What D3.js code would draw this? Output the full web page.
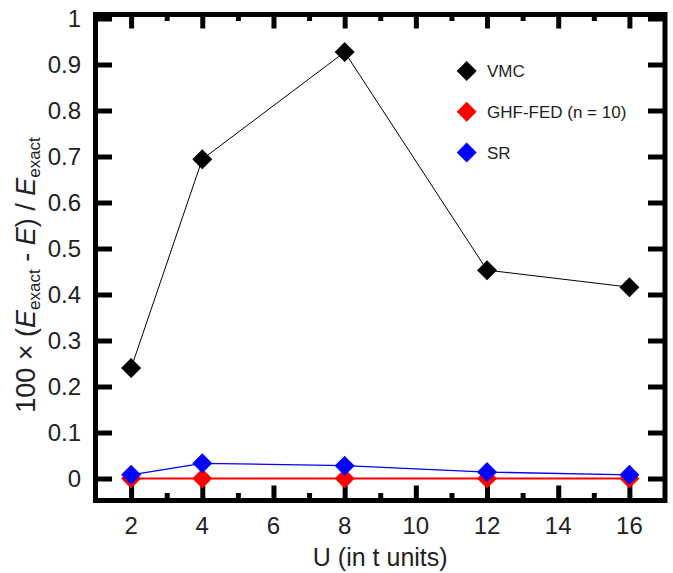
<!DOCTYPE html>
<html>
<head>
<meta charset="utf-8">
<script src="https://cdn.jsdelivr.net/npm/d3@7/dist/d3.min.js"></script>
<style>
  html, body { margin: 0; padding: 0; background: #fff; }
  svg { display: block; }
  text { font-family: "Liberation Sans", Arial, Helvetica, sans-serif; fill: #222; }
</style>
</head>
<body>
<svg id="chart" width="673" height="573"></svg>
<script>
// Interaction strength U (in units of t)
const uValues = [2, 4, 8, 12, 16];
// Relative energy error, 100 × (E_exact − E) / E_exact
const vmc = [0.240, 0.694, 0.927, 0.453, 0.416];
const ghfFed = [0.000, 0.000, 0.000, 0.000, 0.000];
const sr = [0.008, 0.033, 0.028, 0.014, 0.008];

const seriesNames = ["VMC", "GHF-FED (n = 10)", "SR"];
const seriesColors = ["#000000", "#ff0000", "#0000ff"];
const lineWidths = [1, 2, 1.3];

const xMajorTicks = [2, 4, 6, 8, 10, 12, 14, 16];
const xMinorTicks = [3, 5, 7, 9, 11, 13, 15];
const yTicks = [0, 0.1, 0.2, 0.3, 0.4, 0.5, 0.6, 0.7, 0.8, 0.9, 1];

const svg = d3.select("#chart");
const plotLeft = 95.5, plotRight = 665, plotTop = 14.5, plotBottom = 500.5;

const x = d3.scaleLinear().domain([1, 17]).range([plotLeft, plotRight]);
const y = d3.scaleLinear().domain([-0.0478, 1.0087]).range([plotBottom, plotTop]);

const ink = "#000";
const tickW = 5;

// Frame ticks drawn with d3 axes, pointing inward
function styleAxis(g) {
  g.select(".domain").remove();
  g.selectAll(".tick line").attr("stroke", ink).attr("stroke-width", tickW);
}

svg.append("g").attr("transform", `translate(0,${plotBottom})`)
  .call(d3.axisBottom(x).tickValues(xMajorTicks).tickSize(-15).tickFormat(""))
  .call(styleAxis);
svg.append("g").attr("transform", `translate(0,${plotBottom})`)
  .call(d3.axisBottom(x).tickValues(xMinorTicks).tickSize(-7.5).tickFormat(""))
  .call(styleAxis);
svg.append("g").attr("transform", `translate(0,${plotTop})`)
  .call(d3.axisTop(x).tickValues(xMajorTicks).tickSize(-14).tickFormat(""))
  .call(styleAxis);
svg.append("g").attr("transform", `translate(0,${plotTop})`)
  .call(d3.axisTop(x).tickValues(xMinorTicks).tickSize(-6.5).tickFormat(""))
  .call(styleAxis);
svg.append("g").attr("transform", `translate(${plotLeft},0)`)
  .call(d3.axisLeft(y).tickValues(yTicks).tickSize(-16.5).tickFormat(""))
  .call(styleAxis);
svg.append("g").attr("transform", `translate(${plotRight},0)`)
  .call(d3.axisRight(y).tickValues(yTicks).tickSize(-17).tickFormat(""))
  .call(styleAxis);

// Frame
svg.append("rect")
  .attr("x", plotLeft).attr("y", plotTop)
  .attr("width", plotRight - plotLeft).attr("height", plotBottom - plotTop)
  .attr("fill", "none").attr("stroke", ink).attr("stroke-width", 5);

// Tick labels
svg.append("g").selectAll("text").data(yTicks).join("text")
  .attr("x", 81).attr("y", d => y(d))
  .attr("dy", "0.36em")
  .attr("text-anchor", "end")
  .attr("font-size", 24)
  .text(d => d3.format("")(d));

svg.append("g").selectAll("text").data(xMajorTicks).join("text")
  .attr("x", d => x(d)).attr("y", 534)
  .attr("text-anchor", "middle")
  .attr("font-size", 24)
  .text(d => d);

// Axis titles
svg.append("text")
  .attr("x", (plotLeft + plotRight) / 2).attr("y", 566)
  .attr("text-anchor", "middle")
  .attr("font-size", 25)
  .text("U (in t units)");

const yTitle = svg.append("text")
  .attr("transform", "translate(35,275) rotate(-90)")
  .attr("text-anchor", "middle")
  .attr("font-size", 27);
yTitle.append("tspan").text("100 × (");
yTitle.append("tspan").attr("font-style", "italic").text("E");
yTitle.append("tspan").attr("font-size", 17).attr("dy", 5).text("exact");
yTitle.append("tspan").attr("dy", -5).text(" - ");
yTitle.append("tspan").attr("font-style", "italic").text("E");
yTitle.append("tspan").text(") / ");
yTitle.append("tspan").attr("font-style", "italic").text("E");
yTitle.append("tspan").attr("font-size", 17).attr("dy", 5).text("exact");

// Series
const series = [vmc, ghfFed, sr];
const diamond = r => `M0,${-r}L${r},0L0,${r}L${-r},0Z`;
const line = d3.line().x((d, i) => x(uValues[i])).y(d => y(d));

series.forEach((vals, k) => {
  const g = svg.append("g");
  g.append("path")
    .attr("d", line(vals))
    .attr("fill", "none")
    .attr("stroke", seriesColors[k])
    .attr("stroke-width", lineWidths[k]);
  g.selectAll("path.pt").data(vals).join("path")
    .attr("class", "pt")
    .attr("transform", (d, i) => `translate(${x(uValues[i])},${y(d)})`)
    .attr("d", diamond(10))
    .attr("fill", seriesColors[k]);
});

// Legend
const legend = svg.append("g");
seriesNames.forEach((name, k) => {
  const cy = 71 + k * 40.8;
  legend.append("path")
    .attr("transform", `translate(466.7,${cy})`)
    .attr("d", diamond(10))
    .attr("fill", seriesColors[k]);
  legend.append("text")
    .attr("x", 487).attr("y", cy)
    .attr("dy", "0.36em")
    .attr("font-size", 17)
    .text(name);
});
</script>
</body>
</html>
